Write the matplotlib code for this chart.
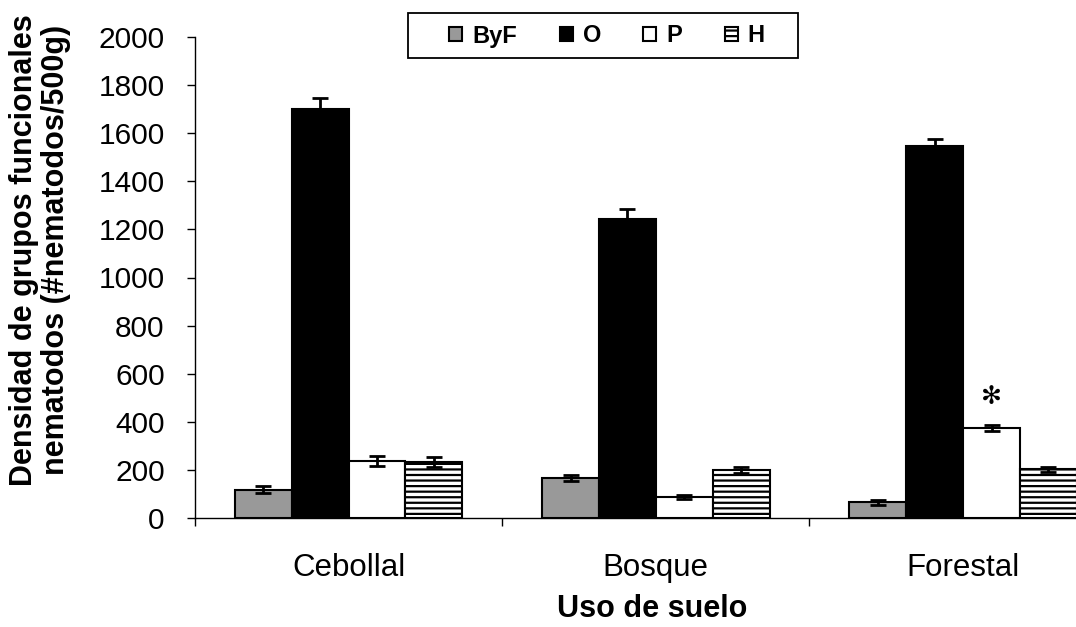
import matplotlib
matplotlib.use("Agg")
import matplotlib.pyplot as plt
from matplotlib.patches import Rectangle
import numpy as np

plt.rcParams['font.family'] = ['Liberation Sans', 'DejaVu Sans']
plt.rcParams['hatch.linewidth'] = 1.6
plt.rcParams['hatch.color'] = 'black'

categories = ["Cebollal", "Bosque", "Forestal"]
groups = ["ByF", "O", "P", "H"]
values = {
    "ByF": [118, 166, 66],
    "O": [1700, 1245, 1545],
    "P": [237, 87, 374],
    "H": [233, 200, 202],
}
errors = {
    "ByF": [15, 14, 10],
    "O": [45, 40, 30],
    "P": [22, 8, 14],
    "H": [20, 12, 10],
}
styles = {
    "ByF": dict(color="#999999", hatch=None),
    "O": dict(color="black", hatch=None),
    "P": dict(color="white", hatch=None),
    "H": dict(color="white", hatch="---"),
}
yticks = list(range(0, 2001, 200))
star_label = "\u273B"

W, H = 1076, 627
fig = plt.figure(figsize=(W / 100, H / 100), dpi=100)
ax = fig.add_axes([195 / W, 1 - 518 / H, 921.7 / W, 481 / H])

x = np.arange(len(categories))
width = 0.185
offsets = (np.arange(len(groups)) - 1.5) * width
handles = []
for g, off in zip(groups, offsets):
    st = styles[g]
    b = ax.bar(x + off, values[g], width, color=st["color"], hatch=st["hatch"],
               edgecolor="black", linewidth=1.5, label=g, zorder=2)
    ax.errorbar(x + off, values[g], yerr=errors[g], fmt="none", ecolor="black",
                elinewidth=2, capsize=6, capthick=2, zorder=3)
    handles.append(b)

# significance mark over P in Forestal
ax.annotate(star_label, xy=(2 + offsets[2], values["P"][2]), xytext=(0, 22),
            textcoords="offset points", ha="center", va="center",
            fontsize=18, color="black", family=["DejaVu Sans"])

ax.set_xlim(-0.5, 2.5)
ax.set_ylim(0, 2000)
ax.set_yticks(yticks)
ax.tick_params(axis="y", direction="out", length=5.8, width=1, pad=16, labelsize=21.5)
ax.set_xticks(x)
ax.set_xticklabels(categories)
ax.set_xticks([-0.5, 0.5, 1.5, 2.5], minor=True)
ax.tick_params(axis="x", which="major", length=0, pad=25, labelsize=22.5)
ax.tick_params(axis="x", which="minor", direction="out", length=5.8, width=1)
for s in ("top", "right"):
    ax.spines[s].set_visible(False)
ax.spines["left"].set_linewidth(1)
ax.spines["bottom"].set_linewidth(1)

fig.text(40 / W, 1 - 250 / H, "Densidad de grupos funcionales\nnematodos (#nematodos/500g)",
         rotation=90, ha="center", va="center", fontsize=22, fontweight="bold",
         linespacing=1.1)
fig.text(652 / W, 1 - 609 / H, "Uso de suelo", ha="center", va="center",
         fontsize=22, fontweight="bold")

leg = fig.legend(handles, groups, loc="center", bbox_to_anchor=(607 / W, 1 - 36 / H),
                 ncol=4, frameon=False,
                 prop=dict(weight="bold", size=17), handlelength=0.55, handleheight=0.55,
                 handletextpad=0.42, columnspacing=1.8, borderpad=0, borderaxespad=0)
for h in leg.legend_handles:
    h.set_linewidth(1.5)
fig.patches.append(Rectangle((408 / W, 1 - 58 / H), 390 / W, 45 / H,
                             transform=fig.transFigure, fill=False,
                             edgecolor="black", linewidth=1.3))

fig.savefig("out.png", dpi=100)
